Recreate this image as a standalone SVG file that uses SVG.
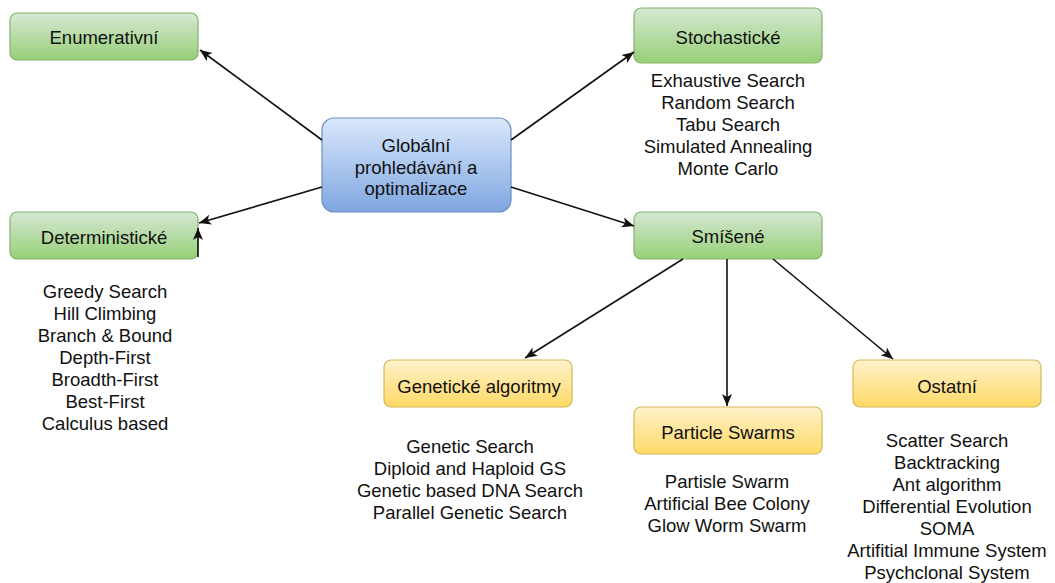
<svg xmlns="http://www.w3.org/2000/svg" width="1055" height="583" viewBox="0 0 1055 583">
<defs>
<linearGradient id="gGreen" x1="0" y1="0" x2="0" y2="1"><stop offset="0" stop-color="#d5e8d4"/><stop offset="1" stop-color="#97d077"/></linearGradient>
<linearGradient id="gBlue" x1="0" y1="0" x2="0" y2="1"><stop offset="0" stop-color="#dae8fc"/><stop offset="1" stop-color="#7ea6e0"/></linearGradient>
<linearGradient id="gYellow" x1="0" y1="0" x2="0" y2="1"><stop offset="0" stop-color="#fff2cc"/><stop offset="1" stop-color="#ffd966"/></linearGradient>
<marker id="arr" markerUnits="userSpaceOnUse" markerWidth="14" markerHeight="12" refX="12" refY="5" orient="auto" viewBox="0 0 14 10">
<path d="M0,0 L12,5 L0,10 L3,5 z" fill="#111"/>
</marker>
<style>
.green{fill:url(#gGreen);stroke:#82b366;stroke-width:1.2}
.blue{fill:url(#gBlue);stroke:#6c8ebf;stroke-width:1.2}
.yellow{fill:url(#gYellow);stroke:#d6b656;stroke-width:1.2}
text{font-family:"Liberation Sans",Arial,sans-serif;font-size:18.5px;fill:#111;text-anchor:middle}
.conn{stroke:#111;stroke-width:1.6;fill:none;marker-end:url(#arr)}
</style>
</defs>
<g id="center">
<rect class="blue" x="322" y="118" width="189" height="94" rx="12"/>
<text x="416" y="152">Globální</text>
<text x="416" y="174">prohledávání a</text>
<text x="416" y="195">optimalizace</text>
</g>
<g id="enumerativni">
<rect class="green" x="10" y="13" width="188" height="47" rx="7"/>
<text x="104" y="44">Enumerativní</text>
</g>
<g id="stochasticke">
<rect class="green" x="634" y="8" width="188" height="55" rx="7"/>
<text x="728" y="44">Stochastické</text>
<text x="728" y="87">Exhaustive Search</text>
<text x="728" y="109">Random Search</text>
<text x="728" y="131">Tabu Search</text>
<text x="728" y="153">Simulated Annealing</text>
<text x="728" y="175">Monte Carlo</text>
</g>
<g id="deterministicke">
<rect class="green" x="10" y="212" width="188" height="47" rx="7"/>
<text x="104" y="244">Deterministické</text>
<text x="105" y="298">Greedy Search</text>
<text x="105" y="320">Hill Climbing</text>
<text x="105" y="342">Branch &amp; Bound</text>
<text x="105" y="364">Depth-First</text>
<text x="105" y="386">Broadth-First</text>
<text x="105" y="408">Best-First</text>
<text x="105" y="430">Calculus based</text>
</g>
<g id="smisene">
<rect class="green" x="634" y="212" width="188" height="47" rx="7"/>
<text x="728" y="243">Smíšené</text>
</g>
<g id="geneticke">
<rect class="yellow" x="384" y="360" width="188" height="47" rx="7"/>
<text x="479" y="393">Genetické algoritmy</text>
<text x="470" y="453">Genetic Search</text>
<text x="470" y="475">Diploid and Haploid GS</text>
<text x="470" y="497">Genetic based DNA Search</text>
<text x="470" y="519">Parallel Genetic Search</text>
</g>
<g id="particle">
<rect class="yellow" x="634" y="407" width="188" height="47" rx="7"/>
<text x="728" y="439">Particle Swarms</text>
<text x="727" y="488">Partisle Swarm</text>
<text x="727" y="510">Artificial Bee Colony</text>
<text x="727" y="532">Glow Worm Swarm</text>
</g>
<g id="ostatni">
<rect class="yellow" x="853" y="360" width="188" height="47" rx="7"/>
<text x="947" y="393">Ostatní</text>
<text x="947" y="447">Scatter Search</text>
<text x="947" y="469">Backtracking</text>
<text x="947" y="491">Ant algorithm</text>
<text x="947" y="513">Differential Evolution</text>
<text x="947" y="535">SOMA</text>
<text x="947" y="557">Artifitial Immune System</text>
<text x="947" y="579">Psychclonal System</text>
</g>
<g id="connectors">
<path class="conn" d="M322,140 L200,50"/>
<path class="conn" d="M511,140 L634,52"/>
<path class="conn" d="M322,187 L199,223"/>
<path class="conn" d="M511,187 L634,226"/>
<path class="conn" d="M198,257 L198,228"/>
<path class="conn" d="M683,259 L525,358"/>
<path class="conn" d="M727,259 L727,406"/>
<path class="conn" d="M773,259 L893,359"/>
</g>
</svg>
